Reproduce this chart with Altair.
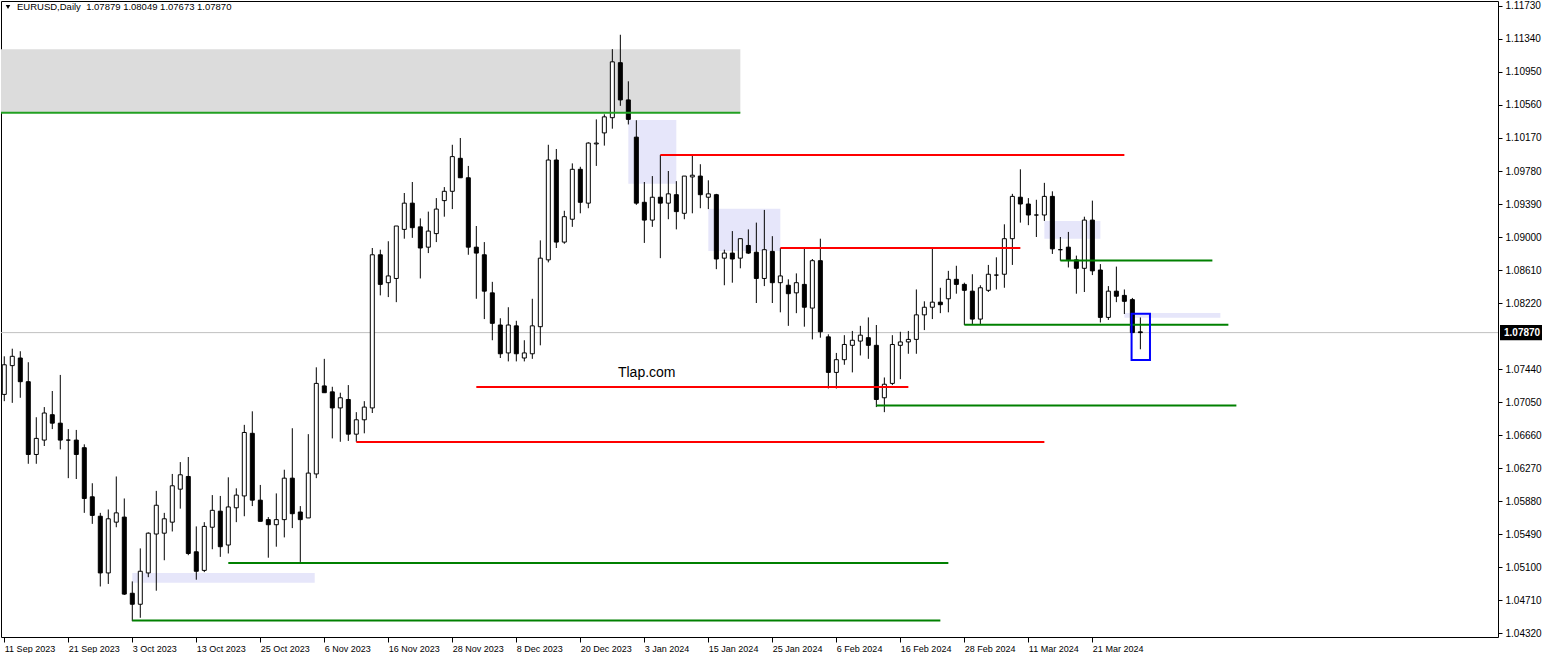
import altair as alt
import pandas as pd

# ---------------- data ----------------
opens = [1.0714, 1.0748, 1.0757, 1.0729, 1.0643, 1.0660, 1.0690, 1.0680, 1.0660, 1.0660,
         1.0651, 1.0593, 1.0570, 1.0503, 1.0563, 1.0569, 1.0479, 1.0466, 1.0503, 1.0549,
         1.0550, 1.0563, 1.0602, 1.0617, 1.0528, 1.0506, 1.0557, 1.0576, 1.0536, 1.0580,
         1.0594, 1.0668, 1.0589, 1.0566, 1.0560, 1.0566, 1.0615, 1.0575, 1.0568, 1.0620,
         1.0724, 1.0717, 1.0698, 1.0708, 1.0667, 1.0684, 1.0698, 1.0879, 1.0846, 1.0851,
         1.0909, 1.0940, 1.0912, 1.0888, 1.0904, 1.0943, 1.0954, 1.0993, 1.0970, 1.0888,
         1.0879, 1.0834, 1.0796, 1.0763, 1.0795, 1.0757, 1.0762, 1.0794, 1.0873, 1.0991,
         1.0894, 1.0921, 1.0980, 1.0940, 1.1010, 1.1023, 1.1041, 1.1106, 1.1062, 1.1018,
         1.0941, 1.0920, 1.0947, 1.0940, 1.0950, 1.0928, 1.0971, 1.0972, 1.0947, 1.0950,
         1.0875, 1.0881, 1.0875, 1.0890, 1.0882, 1.0851, 1.0883, 1.0846, 1.0843, 1.0834,
         1.0844, 1.0816, 1.0872, 1.0782, 1.0740, 1.0755, 1.0772, 1.0777, 1.0781, 1.0772,
         1.0710, 1.0727, 1.0772, 1.0776, 1.0779, 1.0808, 1.0817, 1.0823, 1.0827, 1.0850,
         1.0844, 1.0836, 1.0803, 1.0837, 1.0855, 1.0856, 1.0898, 1.0947, 1.0939, 1.0926,
         1.0926, 1.0948, 1.0885, 1.0888, 1.0873, 1.0863, 1.0920, 1.0861, 1.0805, 1.0836,
         1.0831, 1.0826, 1.07879]
highs = [1.0759, 1.0768, 1.0765, 1.0752, 1.0687, 1.0699, 1.0718, 1.0737, 1.0673, 1.0672,
         1.0655, 1.0609, 1.0574, 1.0578, 1.0617, 1.0591, 1.0493, 1.0532, 1.0551, 1.0600,
         1.0574, 1.0620, 1.0634, 1.0640, 1.0558, 1.0563, 1.0595, 1.0594, 1.0616, 1.0603,
         1.0678, 1.0694, 1.0607, 1.0569, 1.0597, 1.0625, 1.0674, 1.0582, 1.0667, 1.0746,
         1.0756, 1.0723, 1.0716, 1.0725, 1.0693, 1.0706, 1.0887, 1.0885, 1.0895, 1.0913,
         1.0952, 1.0965, 1.0922, 1.0930, 1.0946, 1.0959, 1.1009, 1.1017, 1.0984, 1.0913,
         1.0894, 1.0847, 1.0804, 1.0817, 1.0801, 1.0778, 1.0827, 1.0896, 1.1009, 1.1004,
         1.0931, 1.0987, 1.0983, 1.1012, 1.1039, 1.1045, 1.1122, 1.1139, 1.1084, 1.1038,
         1.0965, 1.0972, 1.0997, 1.0978, 1.0966, 1.0972, 1.0998, 1.0986, 1.0967, 1.0951,
         1.0885, 1.0907, 1.0898, 1.0909, 1.0917, 1.0932, 1.0901, 1.0887, 1.0850, 1.0857,
         1.0887, 1.0874, 1.0898, 1.0785, 1.0763, 1.0784, 1.0789, 1.0795, 1.0805, 1.0796,
         1.0734, 1.0784, 1.0788, 1.0789, 1.0838, 1.0824, 1.0887, 1.0840, 1.0860, 1.0866,
         1.0846, 1.0856, 1.0843, 1.0867, 1.0876, 1.0915, 1.0951, 1.0980, 1.0946, 1.0944,
         1.0964, 1.0954, 1.0900, 1.0906, 1.0878, 1.0924, 1.0943, 1.0868, 1.0842, 1.0865,
         1.0838, 1.0828, 1.08049]
lows = [1.0706, 1.0704, 1.0710, 1.0632, 1.0632, 1.0653, 1.0673, 1.0649, 1.0615, 1.0614,
        1.0574, 1.0561, 1.0487, 1.0490, 1.0557, 1.0477, 1.0446, 1.0450, 1.0498, 1.0482,
        1.0518, 1.0552, 1.0579, 1.0524, 1.0495, 1.0504, 1.0531, 1.0522, 1.0526, 1.0563,
        1.0570, 1.0582, 1.0564, 1.0521, 1.0534, 1.0545, 1.0556, 1.0516, 1.0568, 1.0615,
        1.0716, 1.0662, 1.0658, 1.0659, 1.0658, 1.0668, 1.0692, 1.0831, 1.0829, 1.0823,
        1.0898, 1.0899, 1.0851, 1.0881, 1.0894, 1.0924, 1.0933, 1.0970, 1.0879, 1.0827,
        1.0803, 1.0778, 1.0757, 1.0753, 1.0753, 1.0753, 1.0756, 1.0772, 1.0870, 1.0887,
        1.0892, 1.0912, 1.0928, 1.0934, 1.0984, 1.1008, 1.1028, 1.1055, 1.1033, 1.0938,
        1.0893, 1.0912, 1.0875, 1.0921, 1.0909, 1.0921, 1.0928, 1.0934, 1.0933, 1.0862,
        1.0843, 1.0846, 1.0863, 1.0880, 1.0822, 1.0842, 1.0822, 1.0811, 1.0795, 1.0810,
        1.0794, 1.0779, 1.0781, 1.0721, 1.0721, 1.0749, 1.0740, 1.0760, 1.0756, 1.0699,
        1.0693, 1.0725, 1.0732, 1.0762, 1.0762, 1.0790, 1.0803, 1.0810, 1.0811, 1.0833,
        1.0796, 1.0796, 1.0797, 1.0835, 1.0838, 1.0840, 1.0867, 1.0917, 1.0914, 1.0900,
        1.0919, 1.0880, 1.0872, 1.0864, 1.0833, 1.0835, 1.0855, 1.0799, 1.0802, 1.0823,
        1.0809, 1.0787, 1.07673]
closes = [1.0749, 1.0759, 1.0729, 1.0643, 1.0662, 1.0692, 1.0680, 1.0660, 1.0660, 1.0643,
          1.0591, 1.0571, 1.0503, 1.0567, 1.0574, 1.0478, 1.0466, 1.0505, 1.0550, 1.0583,
          1.0567, 1.0606, 1.0619, 1.0526, 1.0505, 1.0558, 1.0577, 1.0534, 1.0581, 1.0595,
          1.0669, 1.0589, 1.0564, 1.0560, 1.0566, 1.0615, 1.0573, 1.0566, 1.0621, 1.0727,
          1.0716, 1.0698, 1.0710, 1.0667, 1.0684, 1.0699, 1.0879, 1.0844, 1.0854, 1.0913,
          1.0940, 1.0911, 1.0887, 1.0907, 1.0933, 1.0954, 1.0995, 1.0970, 1.0888, 1.0881,
          1.0836, 1.0798, 1.0762, 1.0796, 1.0762, 1.0763, 1.0795, 1.0875, 1.0991, 1.0894,
          1.0924, 1.0980, 1.0941, 1.1011, 1.1011, 1.1042, 1.1107, 1.1062, 1.1039, 1.0940,
          1.0920, 1.0947, 1.0940, 1.0951, 1.0930, 1.0972, 1.0973, 1.0950, 1.0951, 1.0874,
          1.0881, 1.0874, 1.0898, 1.0881, 1.0851, 1.0885, 1.0846, 1.0854, 1.0833, 1.0846,
          1.0817, 1.0872, 1.0788, 1.0740, 1.0755, 1.0773, 1.0778, 1.0784, 1.0772, 1.0708,
          1.0726, 1.0773, 1.0776, 1.0779, 1.0808, 1.0817, 1.0823, 1.0820, 1.0850, 1.0844,
          1.0837, 1.0803, 1.0840, 1.0856, 1.0855, 1.0898, 1.0948, 1.0939, 1.0926, 1.0926,
          1.0948, 1.0886, 1.0885, 1.0873, 1.0863, 1.0920, 1.0860, 1.0805, 1.0836, 1.0830,
          1.0824, 1.0787, 1.07870]

date_labels = ["11 Sep 2023", "21 Sep 2023", "3 Oct 2023", "13 Oct 2023", "25 Oct 2023",
               "6 Nov 2023", "16 Nov 2023", "28 Nov 2023", "8 Dec 2023", "20 Dec 2023",
               "3 Jan 2024", "15 Jan 2024", "25 Jan 2024", "6 Feb 2024", "16 Feb 2024",
               "28 Feb 2024", "11 Mar 2024", "21 Mar 2024"]
date_label_bars = [0, 8, 16, 24, 32, 40, 48, 56, 64, 72, 80, 88, 96, 104, 112, 120, 128, 136]

price_ticks = [1.04320, 1.04710, 1.05100, 1.05490, 1.05880, 1.06270, 1.06660, 1.07050,
               1.07440, 1.08220, 1.08610, 1.09000, 1.09390, 1.09780, 1.10170, 1.10560,
               1.10950, 1.11340, 1.11730]

current_price = 1.07870
header = "EURUSD,Daily \u00a01.07879 1.08049 1.07673 1.07870"

# horizontal levels drawn on the chart (start bar, end bar, price, colour)
level_start = [-0.41, 82, 97, 59, 44, 132, 120, 109, 28, 16]
level_end = [92, 140, 127, 113, 130, 151, 153, 154, 118, 117]
level_price = [1.10469, 1.09969, 1.08870, 1.07227, 1.06577, 1.08722, 1.07964, 1.07009, 1.05147, 1.04468]
level_color = ["#22a022", "#ff0000", "#ff0000", "#ff0000", "#ff0000",
               "#008000", "#008000", "#008000", "#008000", "#008000"]

# shaded zones
zone_start = [-0.41, 16, 78, 88, 130, 140]
zone_end = [92, 38.8, 84, 97, 137, 152]
zone_top = [1.11218, 1.05029, 1.10383, 1.09334, 1.09189, 1.08102]
zone_bottom = [1.10469, 1.04914, 1.09630, 1.08835, 1.08980, 1.08046]
zone_color = ["#dcdcdc", "#e6e6fa", "#e6e6fa", "#e6e6fa", "#e6e6fa", "#e6e6fa"]

box_start, box_end, box_top, box_bottom = [140.9], [143.2], [1.08094], [1.07546]

watermark_bar, watermark_price, watermark_text = [80.3], [1.07393], ["Tlap.com"]

# ---------------- build tables ----------------
n = len(opens)
candles = pd.DataFrame({"bar": list(range(n)), "open": opens, "high": highs,
                        "low": lows, "close": closes})
candles["fill"] = ["white" if c > o else "black" for o, c in zip(opens, closes)]

levels = pd.DataFrame({"x1": level_start, "x2": level_end, "p": level_price, "c": level_color})
zones = pd.DataFrame({"x1": zone_start, "x2": zone_end, "t": zone_top, "b": zone_bottom, "c": zone_color})
box = pd.DataFrame({"x1": box_start, "x2": box_end, "t": box_top, "b": box_bottom})
wm = pd.DataFrame({"bar": watermark_bar, "p": watermark_price, "txt": watermark_text})
cur = pd.DataFrame({"p": [current_price], "txt": ["%.5f" % current_price]})

FONT = "Liberation Sans"
xscale = alt.Scale(domain=[-0.41, 186.7], nice=False, zero=False, padding=0)
yscale = alt.Scale(domain=[1.04273, 1.11789], nice=False, zero=False, padding=0)

label_expr = "[" + ",".join("'%s'" % s for s in date_labels) + "][indexof([" + \
    ",".join(str(b) for b in date_label_bars) + "], datum.value)]"

xaxis = alt.Axis(values=date_label_bars, labelExpr=label_expr, labelAlign="left",
                 labelFont=FONT, labelFontSize=9, labelColor="black", labelPadding=2,
                 tickSize=5, tickColor="black", domain=False, grid=False, title=None,
                 labelOverlap=False)
yaxis = alt.Axis(orient="right", values=price_ticks, format=".5f", labelFont=FONT,
                 labelFontSize=10, labelColor="black", tickSize=4, tickColor="black",
                 labelPadding=3, domain=False, grid=False, title=None, labelOverlap=False)


def X(f):
    return alt.X(f, scale=xscale, axis=xaxis)


def Y(f):
    return alt.Y(f, scale=yscale, axis=yaxis)


zone_layer = alt.Chart(zones).mark_rect(clip=True).encode(
    x=X("x1:Q"), x2="x2:Q", y=Y("t:Q"), y2="b:Q",
    color=alt.Color("c:N", scale=None))

cur_line = alt.Chart(cur).mark_rule(color="#c0c0c0", strokeWidth=1).encode(y=Y("p:Q"))

wicks = alt.Chart(candles).mark_rule(color="black", strokeWidth=1).encode(
    x=X("bar:Q"), y=Y("low:Q"), y2="high:Q")

bodies = alt.Chart(candles).mark_bar(size=4, stroke="black", strokeWidth=1).encode(
    x=X("bar:Q"), y=Y("open:Q"), y2="close:Q",
    fill=alt.Fill("fill:N", scale=None))

level_layer = alt.Chart(levels).mark_rule(strokeWidth=2, clip=True).encode(
    x=X("x1:Q"), x2="x2:Q", y=Y("p:Q"),
    color=alt.Color("c:N", scale=None))

box_layer = alt.Chart(box).mark_rect(fill=None, stroke="#0000ff", strokeWidth=2).encode(
    x=X("x1:Q"), x2="x2:Q", y=Y("t:Q"), y2="b:Q")

wm_layer = alt.Chart(wm).mark_text(font=FONT, fontSize=14, color="black").encode(
    x=X("bar:Q"), y=Y("p:Q"), text="txt:N")

cur_box = alt.Chart(cur).mark_point(
    shape="M-1,-0.33H1V0.33H-1Z", size=1600, filled=True, fill="black", stroke="black",
    opacity=1).encode(x=alt.value(1520), y=Y("p:Q"))
cur_text = alt.Chart(cur).mark_text(font=FONT, fontSize=10, color="white", align="left",
                                    fontWeight="bold").encode(
    x=alt.value(1503), y=Y("p:Q"), text="txt:N")

hdr = alt.Chart(cur).mark_text(font=FONT, fontSize=9.5, color="black", align="left",
                               baseline="middle").encode(
    x=alt.value(16), y=alt.value(6), text=alt.value(header))
tri = alt.Chart(cur).mark_point(shape="triangle-down", filled=True, color="black",
                                size=20, opacity=1).encode(
    x=alt.value(7), y=alt.value(6))

chart = alt.layer(zone_layer, cur_line, wicks, bodies, level_layer, box_layer, wm_layer,
                  cur_box, cur_text, hdr, tri).properties(
    width=1497, height=636, padding=0, background="white"
).configure_view(stroke="black", strokeWidth=1).configure_axis(labelOverlap=False)

chart.save("out.html", embed_options={"renderer": "svg", "actions": False})
